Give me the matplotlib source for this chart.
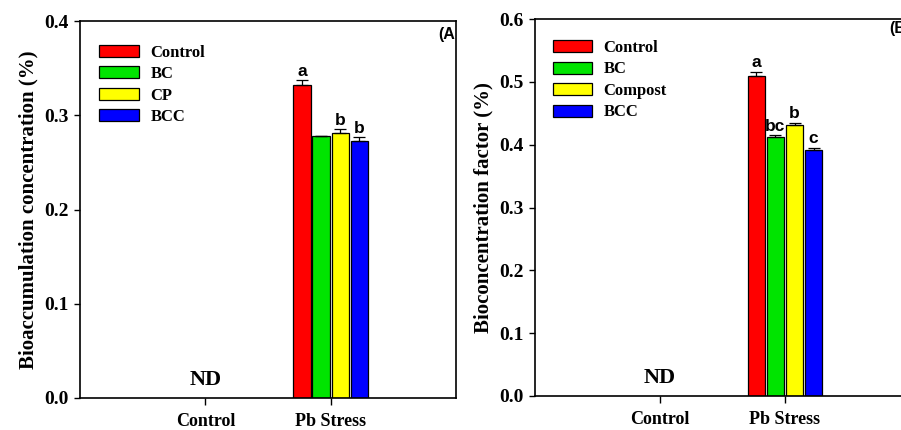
import matplotlib.pyplot as plt
from matplotlib.patches import Patch

# data
groups = ['Control', 'Pb Stress']
colors = ['#ff0000', '#00e400', '#ffff00', '#0000ff']

labels_a = ['Control', 'BC', 'CP', 'BCC']
bac = [0.332, 0.2775, 0.281, 0.2725]
bac_err = [0.005, 0.001, 0.004, 0.004]
bac_sig = ['a', '', 'b', 'b']

labels_b = ['Control', 'BC', 'Compost', 'BCC']
bcf = [0.510, 0.412, 0.431, 0.391]
bcf_err = [0.006, 0.003, 0.004, 0.004]
bcf_sig = ['a', 'bc', 'b', 'c']

serif = 'Liberation Serif'
sans = 'Liberation Sans'

fig = plt.figure(figsize=(9.01, 4.30), dpi=100)
ax1 = fig.add_axes([80/901, 32/430, 376/901, 377/430])
ax2 = fig.add_axes([535/901, 34/430, 375/901, 377/430])


def panel(ax, vals, errs, sig, labels, ylim, ylabel, tag, legend_x, legend_y):
    step, width = 0.153, 0.138
    for i, (v, e) in enumerate(zip(vals, errs)):
        x = 2 + (i - 1.5) * step
        ax.bar(x, v, width=width, color=colors[i], edgecolor='black', linewidth=0.9, zorder=2)
        ax.errorbar(x, v, yerr=[[0], [e]], fmt='none', ecolor='black',
                    elinewidth=0.9, capsize=4, capthick=0.9, zorder=3)
        if sig[i]:
            ax.annotate(sig[i], (x, v + e), xytext=(0, 1), textcoords='offset points',
                        ha='center', va='bottom', fontsize=12.5, fontweight='bold',
                        family=sans)
    ax.annotate('ND', (1, 0), xytext=(0, 6), textcoords='offset points',
                ha='center', va='bottom', fontsize=16, fontweight='bold', family=serif)
    ax.set_xlim(0, 3)
    ax.set_ylim(*ylim)
    n = int(round(ylim[1] * 10)) + 1
    ax.set_xticks([1, 2])
    ax.set_xticklabels(groups, fontsize=13, fontweight='bold', family=serif)
    ax.set_yticks([round(0.1 * k, 1) for k in range(n)])
    ax.set_yticklabels([f'{0.1 * k:.1f}' for k in range(n)],
                       fontsize=14, fontweight='bold', family=serif)
    ax.tick_params(axis='x', length=5, width=1, pad=6)
    ax.tick_params(axis='y', length=4, width=1, pad=4)
    ax.set_ylabel(ylabel, fontsize=15, fontweight='bold', family=serif, labelpad=4)
    for s in ax.spines.values():
        s.set_linewidth(1.2)
    ax.text(0.997, 0.965, tag, transform=ax.transAxes, ha='right', va='center',
            fontsize=11.5, fontweight='bold', family=sans)
    handles = [Patch(facecolor=c, edgecolor='black', linewidth=0.9) for c in colors]
    ax.legend(handles, labels, loc='upper left', bbox_to_anchor=(legend_x, legend_y),
              frameon=False, handlelength=2.35, handleheight=0.72, handletextpad=0.7,
              labelspacing=0.33, borderaxespad=0,
              prop={'family': serif, 'weight': 'bold', 'size': 12})


panel(ax1, bac, bac_err, bac_sig, labels_a, (0, 0.4),
      'Bioaccumulation concentration (%)', '(A', 0.034, 0.955)
panel(ax2, bcf, bcf_err, bcf_sig, labels_b, (0, 0.6),
      'Bioconcentration factor (%)', '', 0.03, 0.962)
fig.text(889/901, 1 - 29/430, '(B)', ha='left', va='center',
         fontsize=11.5, fontweight='bold', family=sans)

fig.savefig('out.png', dpi=100)
